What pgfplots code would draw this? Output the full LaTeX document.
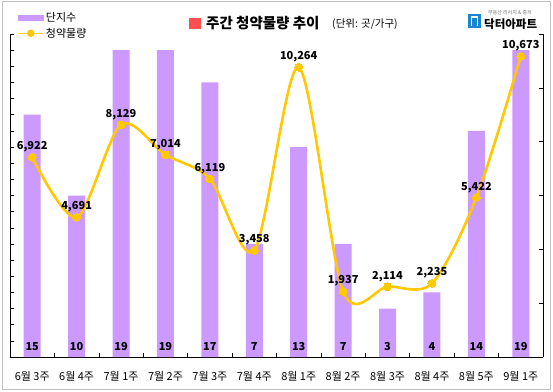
\documentclass[border=0pt]{standalone}
\usepackage{fontspec}
\setmainfont{Noto Sans CJK KR}
\usepackage{pgfplots}
\pgfplotsset{compat=1.18}
\definecolor{barcol}{HTML}{CC99FF}
\definecolor{linecol}{HTML}{FFC800}
\definecolor{titlered}{HTML}{FF4F4F}
\definecolor{logoblue}{HTML}{1B86D0}
\begin{document}
\begin{tikzpicture}[x=1pt,y=1pt]
\useasboundingbox (0,0) rectangle (553,391);
\draw[black!25, line width=1pt] (2,2) rectangle (550,389);
% title
\fill[titlered] (189,362) rectangle (201,373);
\node[anchor=west, inner sep=0pt, font=\bfseries\fontsize{14.5}{14.5}\selectfont] at (206,367.5) {주간 청약물량 추이};
\node[anchor=west, inner sep=0pt, font=\fontsize{10.5}{10.5}\selectfont] at (332,366.5) {(단위: 곳/가구)};
% logo
\fill[logoblue] (468,363) rectangle (481,377);
\draw[white, line width=1.6pt] (471.5,365) -- (471.5,374) -- (477.5,374) -- (477.5,365);
\node[anchor=west, inner sep=0pt, font=\bfseries\fontsize{11.5}{11.5}\selectfont] at (484,366.5) {닥터아파트};
\node[anchor=west, inner sep=0pt, text=black!55, font=\fontsize{5}{5}\selectfont] at (488,378.5) {부동산 리서치 \& 중개};

\begin{axis}[
  at={(10pt,34pt)}, anchor=south west,
  width=533pt, height=323pt, scale only axis,
  xmin=-0.5, xmax=11.5, ymin=0, ymax=20,
  axis x line*=bottom, axis y line*=left,
  axis line style={black, line width=0.8pt},
  ytick={0,1,...,20}, yticklabels={}, scaled y ticks=false,
  tick align=inside, major tick length=4pt, minor tick length=4pt,
  tick style={black, line width=0.6pt},
  xtick={0,...,11},
  major x tick style={draw=none},
  minor xtick={0.5,1.5,...,10.5},
  xticklabels={6월 3주,6월 4주,7월 1주,7월 2주,7월 3주,7월 4주,8월 1주,8월 2주,8월 3주,8월 4주,8월 5주,9월 1주},
  xticklabel style={font=\fontsize{11}{11}\selectfont, yshift=-11pt},
  clip=false,
]
\addplot[ybar, bar width=17pt, fill=barcol, draw=none] coordinates {
  (0,15) (1,10) (2,19) (3,19) (4,17) (5,7) (6,13) (7,7) (8,3) (9,4) (10,14) (11,19)};
\addplot[draw=none, nodes near coords, point meta=explicit symbolic,
  every node near coord/.style={anchor=center, yshift=10pt, text=black, font=\bfseries\fontsize{11}{11}\selectfont}]
  coordinates {
  (0,0)[15] (1,0)[10] (2,0)[19] (3,0)[19] (4,0)[17] (5,0)[7] (6,0)[13] (7,0)[7] (8,0)[3] (9,0)[4] (10,0)[14] (11,0)[19]};
\end{axis}

\begin{axis}[
  at={(10pt,34pt)}, anchor=south west,
  width=533pt, height=323pt, scale only axis,
  xmin=-0.5, xmax=11.5, ymin=-500, ymax=11500,
  axis x line=none, axis y line*=right,
  axis line style={black, line width=0.8pt},
  ytick={-500,1500,...,11500}, yticklabels={}, scaled y ticks=false,
  tick align=inside, major tick length=4pt,
  tick style={black, line width=0.6pt},
  /pgf/number format/assume math mode=true,
  clip=false,
  legend style={at={(rel axis cs:0.008,1.08)}, anchor=north west, draw=none, fill=none,
    font=\fontsize{11}{11}\selectfont, row sep=1pt,
    /tikz/every even column/.append style={column sep=2pt}},
  legend cell align=left,
]
\addlegendimage{legend image code/.code={\fill[barcol] (0pt,-2.5pt) rectangle (25pt,2.5pt);}}
\addlegendentry{단지수}
\addlegendimage{legend image code/.code={\draw[linecol!80, line width=1.5pt] (0pt,0pt) -- (25pt,0pt); \fill[linecol] (12.5pt,0pt) circle (3.5pt);}}
\addlegendentry{청약물량}
\addplot[forget plot, linecol, line width=2.6pt, smooth, mark=*, mark size=4pt,
  mark options={fill=linecol, draw=linecol, line width=0pt},
  nodes near coords={\pgfmathprintnumber[fixed,precision=0,1000 sep={,}]{\pgfplotspointmeta}},
  point meta=y,
  every node near coord/.style={anchor=south, inner sep=1pt, yshift=4pt, text=black, font=\bfseries\fontsize{11}{11}\selectfont}]
  coordinates {
  (0,6922) (1,4691) (2,8129) (3,7014) (4,6119) (5,3458) (6,10264) (7,1937) (8,2114) (9,2235) (10,5422) (11,10673)};
\end{axis}
\end{tikzpicture}
\end{document}
